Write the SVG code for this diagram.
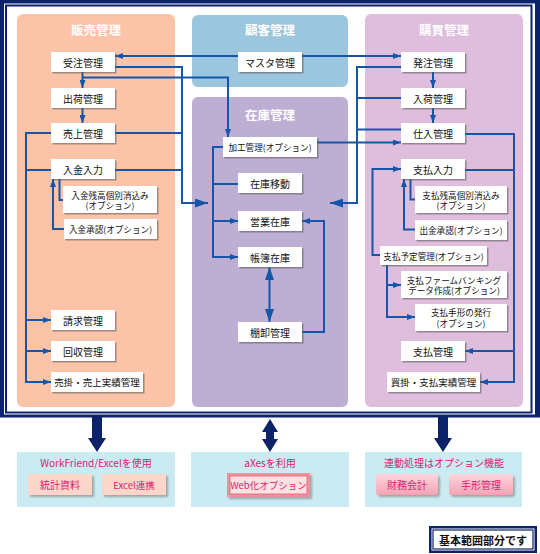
<svg xmlns="http://www.w3.org/2000/svg" width="540" height="554" viewBox="0 0 540 554">
<style>
.t{font-family:"Noto Sans CJK JP","Noto Sans",sans-serif;}
.pt{font-family:"Noto Sans CJK JP",sans-serif;font-size:12.5px;font-weight:bold;fill:#fff;text-anchor:middle;}
.n rect{fill:#fff;filter:url(#sh);}
.n text{font-family:"Noto Sans CJK JP",sans-serif;font-size:10px;fill:#111;text-anchor:middle;dominant-baseline:central;}
.n text.o{font-size:8.6px;}
.c{fill:none;stroke:#1656a8;stroke-width:2;}
.m{fill:#d81b73;font-family:"Noto Sans CJK JP",sans-serif;font-size:10px;text-anchor:middle;dominant-baseline:central;}
</style>
<defs>
<filter id="sh" x="-10%" y="-20%" width="130%" height="160%">
<feDropShadow dx="1.5" dy="1.5" stdDeviation="0.7" flood-color="#555" flood-opacity="0.55"/>
</filter>
<filter id="sh2" x="-10%" y="-20%" width="130%" height="160%">
<feDropShadow dx="2" dy="2" stdDeviation="0.8" flood-color="#777" flood-opacity="0.6"/>
</filter>
<marker id="a" markerUnits="userSpaceOnUse" markerWidth="8" markerHeight="6" refX="8" refY="3" orient="auto">
<path d="M0,0 L8,3 L0,6 z" fill="#1656a8"/>
</marker>
<marker id="b" markerUnits="userSpaceOnUse" markerWidth="13" markerHeight="9" refX="13" refY="4.5" orient="auto-start-reverse">
<path d="M0,0 L13,4.5 L0,9 z" fill="#1656a8"/>
</marker>
<linearGradient id="pk" x1="0" y1="0" x2="0" y2="1">
<stop offset="0" stop-color="#ffd6dc"/>
<stop offset="1" stop-color="#f3a3b3"/>
</linearGradient>
</defs>

<!-- outer frame -->
<rect x="0" y="0" width="540" height="417.5" fill="#0c236a"/>
<rect x="4" y="3.5" width="531" height="411" fill="#fff"/>
<rect x="6" y="5.5" width="525.5" height="407" fill="#fff" stroke="#0c236a" stroke-width="2"/>

<!-- panels -->
<g id="panel-hanbai">
<rect x="17" y="14" width="158" height="393" rx="6" fill="#fbc3a8"/>
<text class="pt" x="96" y="35">販売管理</text>
</g>
<g id="panel-kokyaku">
<rect x="192" y="15" width="156" height="72" rx="6" fill="#9cc6de"/>
<text class="pt" x="270" y="35">顧客管理</text>
</g>
<g id="panel-zaiko">
<rect x="192" y="97" width="156" height="310" rx="6" fill="#bdaed4"/>
<text class="pt" x="270" y="120">在庫管理</text>
</g>
<g id="panel-kobai">
<rect x="365" y="14" width="158" height="393" rx="6" fill="#dfbddd"/>
<text class="pt" x="444" y="35">購買管理</text>
</g>

<!-- connectors -->
<g id="connectors">
<path class="c" d="M82.5,72 V88" marker-end="url(#a)"/>
<path class="c" d="M82.5,108 V123" marker-end="url(#a)"/>
<path class="c" d="M82.5,77.5 H228 V137" marker-end="url(#a)"/>
<path class="c" d="M115,67 H182 V203 H208" marker-end="url(#b)"/>
<path class="c" d="M115,133 H182"/>
<path class="c" d="M115,170 H182"/>
<path class="c" d="M51,133 H26 V382 H51" marker-end="url(#a)"/>
<path class="c" d="M26,170 H51"/>
<path class="c" d="M26,320 H51" marker-end="url(#a)"/>
<path class="c" d="M26,351 H51" marker-end="url(#a)"/>
<path class="c" d="M64,229 H53 V179" marker-end="url(#a)"/>
<path class="c" d="M59.5,179 V200 H63"/>
<path class="c" d="M238,56 H115" marker-end="url(#a)"/>
<path class="c" d="M302,56 H401" marker-end="url(#a)"/>

<path class="c" d="M223,147 H213 V257 H238" marker-end="url(#a)"/>
<path class="c" d="M213,184 H238"/>
<path class="c" d="M213,221 H238" marker-end="url(#a)"/>
<path class="c" d="M269.5,267 V322" marker-start="url(#b)" marker-end="url(#b)"/>
<path class="c" d="M302,332 H324 V221 H302" marker-end="url(#a)"/>
<path class="c" d="M317,142.5 H401" marker-end="url(#a)"/>

<path class="c" d="M401,67 H357 V203 H330" marker-end="url(#b)"/>
<path class="c" d="M401,98 H357"/>
<path class="c" d="M401,129.5 H357"/>
<path class="c" d="M433,72 V88" marker-end="url(#a)"/>
<path class="c" d="M433,108 V123" marker-end="url(#a)"/>
<path class="c" d="M465,134 H514 V382 H480" marker-end="url(#a)"/>
<path class="c" d="M465,170 H514"/>
<path class="c" d="M514,351 H465" marker-end="url(#a)"/>
<path class="c" d="M380,255 H372.5 V169 H401" marker-end="url(#a)"/>
<path class="c" d="M415,229.5 H404 V179" marker-end="url(#a)"/>
<path class="c" d="M410.5,179 V199.5 H415"/>
<path class="c" d="M387,265 V317 H415" marker-end="url(#a)"/>
<path class="c" d="M387,285 H401" marker-end="url(#a)"/>
</g>

<!-- left nodes -->
<g id="juchu" class="n"><rect x="51" y="52" width="64" height="20"/><text x="83" y="62">受注管理</text></g>
<g id="shukka" class="n"><rect x="51" y="88" width="64" height="20"/><text x="83" y="98">出荷管理</text></g>
<g id="uriage" class="n"><rect x="51" y="123" width="64" height="20"/><text x="83" y="133">売上管理</text></g>
<g id="nyukin" class="n"><rect x="51" y="159" width="64" height="20"/><text x="83" y="169">入金入力</text></g>
<g id="nyukin-keshikomi" class="n"><rect x="63" y="186" width="94" height="27"/><text class="o" x="110" y="194.5">入金残高個別消込み</text><text class="o" x="110" y="205">(オプション)</text></g>
<g id="nyukin-shonin" class="n"><rect x="64" y="219" width="93" height="20"/><text class="o" x="110.5" y="229">入金承認(オプション)</text></g>
<g id="seikyu" class="n"><rect x="51" y="310" width="64" height="20"/><text x="83" y="320">請求管理</text></g>
<g id="kaishu" class="n"><rect x="51" y="341" width="64" height="20"/><text x="83" y="351">回収管理</text></g>
<g id="urikake" class="n"><rect x="51" y="372" width="92" height="20"/><text x="97" y="382" style="font-size:9.5px">売掛・売上実績管理</text></g>

<!-- middle nodes -->
<g id="master" class="n"><rect x="238" y="52" width="64" height="20"/><text x="270" y="62">マスタ管理</text></g>
<g id="kako" class="n"><rect x="223" y="137" width="94" height="20"/><text class="o" x="270" y="147">加工管理(オプション)</text></g>
<g id="zaiko-ido" class="n"><rect x="238" y="173" width="64" height="20"/><text x="270" y="183">在庫移動</text></g>
<g id="eigyo-zaiko" class="n"><rect x="238" y="211" width="64" height="20"/><text x="270" y="221">営業在庫</text></g>
<g id="chobo-zaiko" class="n"><rect x="238" y="247" width="64" height="20"/><text x="270" y="257">帳簿在庫</text></g>
<g id="tanaoroshi" class="n"><rect x="238" y="322" width="64" height="20"/><text x="270" y="332">棚卸管理</text></g>

<!-- right nodes -->
<g id="hatchu" class="n"><rect x="401" y="52" width="64" height="20"/><text x="433" y="62">発注管理</text></g>
<g id="nyuka" class="n"><rect x="401" y="88" width="64" height="20"/><text x="433" y="98">入荷管理</text></g>
<g id="shiire" class="n"><rect x="401" y="123" width="64" height="20"/><text x="433" y="133">仕入管理</text></g>
<g id="shiharai-nyuryoku" class="n"><rect x="401" y="159" width="64" height="20"/><text x="433" y="169">支払入力</text></g>
<g id="shiharai-keshikomi" class="n"><rect x="415" y="186" width="92" height="27"/><text class="o" x="461" y="194.5">支払残高個別消込み</text><text class="o" x="461" y="205">(オプション)</text></g>
<g id="shukkin-shonin" class="n"><rect x="415" y="220" width="92" height="20"/><text class="o" x="461" y="230">出金承認(オプション)</text></g>
<g id="shiharai-yotei" class="n"><rect x="380" y="246" width="107" height="19"/><text class="o" x="433.5" y="255.5">支払予定管理(オプション)</text></g>
<g id="firm-banking" class="n"><rect x="401" y="271" width="106" height="27"/><text class="o" x="454" y="279.5">支払ファームバンキング</text><text class="o" x="454" y="290">データ作成(オプション)</text></g>
<g id="tegata-hakko" class="n"><rect x="415" y="304" width="92" height="27"/><text class="o" x="461" y="312">支払手形の発行</text><text class="o" x="461" y="323">(オプション)</text></g>
<g id="shiharai-kanri" class="n"><rect x="401" y="341" width="64" height="20"/><text x="433" y="351">支払管理</text></g>
<g id="kaikake" class="n"><rect x="387" y="372" width="93" height="20"/><text x="433.5" y="382" style="font-size:9.5px">買掛・支払実績管理</text></g>

<!-- big arrows -->
<g id="big-arrows" fill="#0c236a">
<polygon points="92,417 102,417 102,438 106,438 97,452 88,438 92,438"/>
<polygon points="438,417 448,417 448,438 452,438 443,452 434,438 438,438"/>
<polygon points="270,419 278,432 274,432 274,439 278,439 270,452 262,439 266,439 266,432 262,432"/>
</g>

<!-- bottom boxes -->
<g id="box-workfriend">
<rect x="17" y="452" width="158" height="55" fill="#cbebf2"/>
<text class="m" x="96" y="462">WorkFriend/Excelを使用</text>
<rect x="28" y="474" width="64" height="21" fill="#fdd6ca" filter="url(#sh2)"/>
<text class="m" x="60" y="484.5">統計資料</text>
<rect x="102" y="474" width="64" height="21" fill="#fdd6ca" filter="url(#sh2)"/>
<text class="m" x="134" y="484.5" style="font-size:9.5px">Excel連携</text>
</g>
<g id="box-axes">
<rect x="191" y="452" width="158" height="55" fill="#cbebf2"/>
<text class="m" x="270" y="462">aXesを利用</text>
<rect x="227" y="473" width="83" height="24" fill="#f2909e" filter="url(#sh2)"/>
<rect x="230" y="476" width="77" height="18" fill="#fde2e2" stroke="#e0607c" stroke-width="0.8"/>
<text class="m" x="268.5" y="485" style="font-size:9.5px">Web化オプション</text>
</g>
<g id="box-renkei">
<rect x="365" y="452" width="157" height="55" fill="#cbebf2"/>
<text class="m" x="444" y="462">連動処理はオプション機能</text>
<rect x="376" y="474" width="62" height="21" rx="3" fill="url(#pk)" filter="url(#sh2)"/>
<text class="m" x="407" y="484.5">財務会計</text>
<rect x="449" y="474" width="64" height="21" rx="3" fill="url(#pk)" filter="url(#sh2)"/>
<text class="m" x="481" y="484.5">手形管理</text>
</g>

<!-- legend -->
<g id="legend">
<rect x="429" y="526" width="108" height="27" fill="#0c236a"/>
<rect x="431.5" y="528.5" width="103" height="22" fill="#fff"/>
<rect x="433" y="530" width="100" height="19" fill="#fff" stroke="#0c236a" stroke-width="1.2"/>
<text x="483" y="540" class="t" style="font-size:11px;font-weight:bold;fill:#111;text-anchor:middle;dominant-baseline:central">基本範囲部分です</text>
</g>
</svg>
